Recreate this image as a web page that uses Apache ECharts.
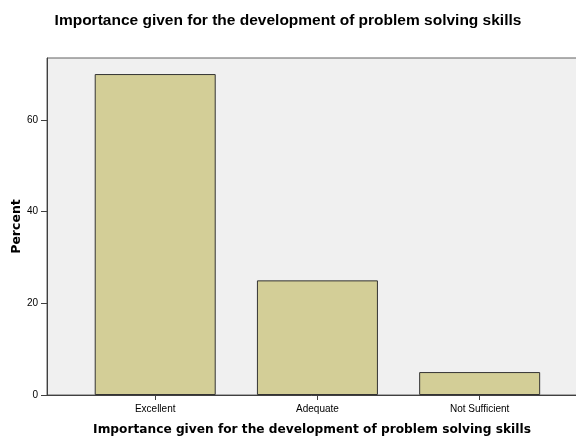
<!DOCTYPE html>
<html><head><meta charset="utf-8">
<script src="https://cdn.jsdelivr.net/npm/echarts@6/dist/echarts.min.js"></script>
<style>html,body{margin:0;padding:0;background:#fff}#c{width:576px;height:439px}</style>
</head><body><div id="c"></div>
<script>
var categories = ["Excellent", "Adequate", "Not Sufficient"];
var percentValues = [70, 25, 5];
var yTicks = [0, 20, 40, 60];
var titleText = "Importance given for the development of problem solving skills";
var xAxisTitle = "Importance given for the development of problem solving skills";
var yAxisTitle = "Percent";

var chart = echarts.init(document.getElementById('c'), null, {renderer: 'canvas'});
var idx = categories.map(function(_, i){ return i; });
chart.setOption({
  animation: false,
  title: {
    text: titleText, left: 'center', top: 8,
    textStyle: {fontFamily: 'Liberation Sans', fontWeight: 'bold', fontSize: 15.5, color: '#000'}
  },
  grid: {
    left: 47, right: -1, top: 58, bottom: 44,
    outerBoundsMode: 'none', containLabel: false,
    show: true, backgroundColor: '#F0F0F0', borderColor: '#606060', borderWidth: 1
  },
  xAxis: {
    type: 'value', min: -0.667, max: 2.6,
    splitLine: {show: false},
    axisLine: {show: true, onZero: false, lineStyle: {color: '#404040', width: 1}},
    axisTick: {show: true, customValues: idx, length: 5, lineStyle: {color: '#404040'}},
    axisLabel: {
      show: true, customValues: idx, margin: 9,
      fontFamily: 'Liberation Sans', fontSize: 10, color: '#000',
      formatter: function(v){ return categories[Math.round(v)]; }
    },
    name: xAxisTitle, nameLocation: 'middle', nameGap: 29, nameMoveOverlap: false,
    nameTextStyle: {fontFamily: 'DejaVu Sans', fontWeight: 'bold', fontSize: 12.2, color: '#000'}
  },
  yAxis: {
    type: 'value', min: 0, max: 73.5,
    splitLine: {show: false},
    axisLine: {show: true, onZero: false, lineStyle: {color: '#404040', width: 1}},
    axisTick: {show: true, customValues: yTicks, length: 6, lineStyle: {color: '#404040'}},
    axisLabel: {show: true, customValues: yTicks, margin: 9, fontFamily: 'Liberation Sans', fontSize: 10, color: '#000'},
    name: yAxisTitle, nameLocation: 'middle', nameGap: 24, nameMoveOverlap: false,
    nameTextStyle: {fontFamily: 'DejaVu Sans', fontWeight: 'bold', fontSize: 12.5, color: '#000'}
  },
  series: [{
    type: 'bar',
    data: percentValues.map(function(v, i){ return [i, v]; }),
    barWidth: 121,
    itemStyle: {color: '#D3CE97', borderColor: '#333333', borderWidth: 1}
  }]
});
</script></body></html>
